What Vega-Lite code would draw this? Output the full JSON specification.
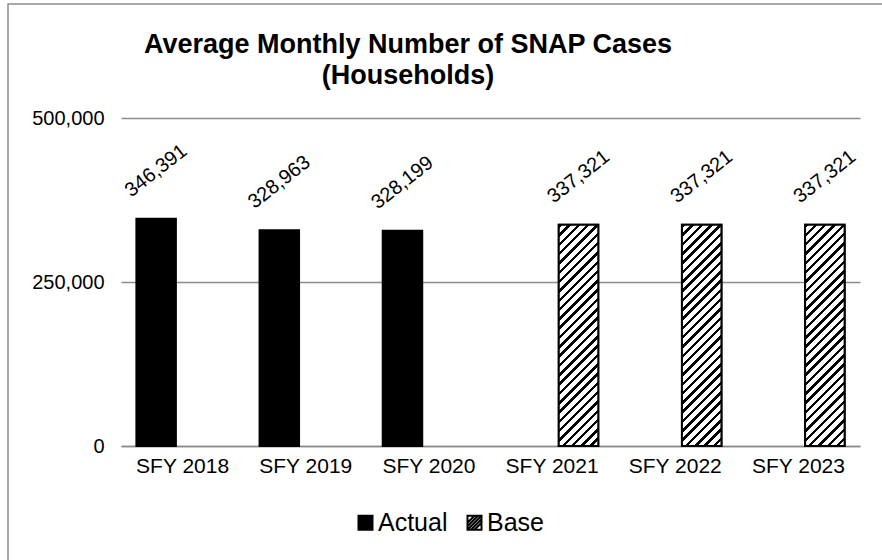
{
  "$schema": "https://vega.github.io/schema/vega-lite/v6.json",
  "width": 880,
  "height": 560,
  "autosize": {"type": "none"},
  "padding": {"left": 8, "top": 4, "right": -6, "bottom": -4},
  "background": "white",
  "config": {
    "view": {"stroke": "#8c8c8c", "strokeWidth": 1.5},
    "font": "Liberation Sans"
  },
  "title": {
    "text": ["Average Monthly Number of SNAP Cases", "(Households)"],
    "fontSize": 27,
    "fontWeight": "bold",
    "font": "Liberation Sans",
    "color": "#000",
    "anchor": "middle",
    "frame": "group",
    "offset": -86,
    "dx": -40,
    "lineHeight": 31
  },
  "data": {
    "values": [
      {"year": "SFY 2018", "type": "Actual", "value": 346391},
      {"year": "SFY 2019", "type": "Actual", "value": 328963},
      {"year": "SFY 2020", "type": "Actual", "value": 328199},
      {"year": "SFY 2021", "type": "Base", "value": 337321},
      {"year": "SFY 2022", "type": "Base", "value": 337321},
      {"year": "SFY 2023", "type": "Base", "value": 337321}
    ]
  },
  "encoding": {
    "x": {
      "field": "year",
      "type": "nominal",
      "sort": null,
      "scale": {"range": [113, 852], "paddingInner": 0.25, "paddingOuter": 0.125},
      "axis": {
        "orient": "bottom",
        "offset": -118,
        "labelAngle": 0,
        "labelPadding": 9,
        "ticks": false,
        "tickSize": 0,
        "domain": true,
        "domainColor": "#8c8c8c",
        "domainWidth": 1.5,
        "labelFontSize": 21,
        "labelColor": "#000",
        "labelFont": "Liberation Sans",
        "title": null
      }
    },
    "xOffset": {
      "field": "type",
      "type": "nominal",
      "sort": ["Actual", "Base"],
      "scale": {"domain": ["Actual", "Base"], "paddingInner": 0.253, "paddingOuter": 0}
    },
    "y": {
      "field": "value",
      "type": "quantitative",
      "scale": {"domain": [0, 500000], "range": [442, 114], "nice": false, "zero": true},
      "axis": {
        "offset": -104,
        "labelPadding": 8,
        "ticks": false,
        "tickSize": 0,
        "domain": false,
        "grid": true,
        "gridColor": "#8c8c8c",
        "gridWidth": 1.5,
        "values": [0, 250000, 500000],
        "format": ",.0f",
        "labelFontSize": 20,
        "labelColor": "#000",
        "labelFont": "Liberation Sans",
        "title": null
      }
    }
  },
  "layer": [
    {
      "mark": {"type": "bar", "stroke": "#000", "strokeWidth": 2},
      "encoding": {
        "fill": {
          "field": "type",
          "type": "nominal",
          "scale": {"domain": ["Actual", "Base"], "range": ["#000", "#fff"]},
          "legend": {
            "orient": "none",
            "legendX": 345,
            "legendY": 506,
            "direction": "horizontal",
            "title": null,
            "padding": 0,
            "symbolType": "M-1,-1H1V1H-1Z M-1,0L0,-1 M-1,0.5L0.5,-1 M-1,1L1,-1 M-0.5,1L1,-0.5 M0,1L1,0",
            "symbolSize": 196,
            "symbolStrokeColor": "#000",
            "symbolStrokeWidth": 2,
            "labelFontSize": 25,
            "labelColor": "#000",
            "labelFont": "Liberation Sans",
            "labelOffset": 0,
            "columnPadding": 14
          }
        }
      }
    },
    {
      "transform": [{"filter": "datum.type === 'Base'"}],
      "mark": {
        "type": "bar",
        "stroke": "#000",
        "strokeWidth": 2,
        "fill": {
          "gradient": "linear",
          "x1": 0, "y1": 0, "x2": 0.2039, "y2": 1.1423,
          "stops": [
            {"offset": 0, "color": "#000"}, {"offset": 0.013571, "color": "#000"}, {"offset": 0.013571, "color": "#fff"}, {"offset": 0.035714, "color": "#fff"},
            {"offset": 0.035714, "color": "#000"}, {"offset": 0.049286, "color": "#000"}, {"offset": 0.049286, "color": "#fff"}, {"offset": 0.071429, "color": "#fff"},
            {"offset": 0.071429, "color": "#000"}, {"offset": 0.085, "color": "#000"}, {"offset": 0.085, "color": "#fff"}, {"offset": 0.107143, "color": "#fff"},
            {"offset": 0.107143, "color": "#000"}, {"offset": 0.120714, "color": "#000"}, {"offset": 0.120714, "color": "#fff"}, {"offset": 0.142857, "color": "#fff"},
            {"offset": 0.142857, "color": "#000"}, {"offset": 0.156429, "color": "#000"}, {"offset": 0.156429, "color": "#fff"}, {"offset": 0.178571, "color": "#fff"},
            {"offset": 0.178571, "color": "#000"}, {"offset": 0.192143, "color": "#000"}, {"offset": 0.192143, "color": "#fff"}, {"offset": 0.214286, "color": "#fff"},
            {"offset": 0.214286, "color": "#000"}, {"offset": 0.227857, "color": "#000"}, {"offset": 0.227857, "color": "#fff"}, {"offset": 0.25, "color": "#fff"},
            {"offset": 0.25, "color": "#000"}, {"offset": 0.263571, "color": "#000"}, {"offset": 0.263571, "color": "#fff"}, {"offset": 0.285714, "color": "#fff"},
            {"offset": 0.285714, "color": "#000"}, {"offset": 0.299286, "color": "#000"}, {"offset": 0.299286, "color": "#fff"}, {"offset": 0.321429, "color": "#fff"},
            {"offset": 0.321429, "color": "#000"}, {"offset": 0.335, "color": "#000"}, {"offset": 0.335, "color": "#fff"}, {"offset": 0.357143, "color": "#fff"},
            {"offset": 0.357143, "color": "#000"}, {"offset": 0.370714, "color": "#000"}, {"offset": 0.370714, "color": "#fff"}, {"offset": 0.392857, "color": "#fff"},
            {"offset": 0.392857, "color": "#000"}, {"offset": 0.406429, "color": "#000"}, {"offset": 0.406429, "color": "#fff"}, {"offset": 0.428571, "color": "#fff"},
            {"offset": 0.428571, "color": "#000"}, {"offset": 0.442143, "color": "#000"}, {"offset": 0.442143, "color": "#fff"}, {"offset": 0.464286, "color": "#fff"},
            {"offset": 0.464286, "color": "#000"}, {"offset": 0.477857, "color": "#000"}, {"offset": 0.477857, "color": "#fff"}, {"offset": 0.5, "color": "#fff"},
            {"offset": 0.5, "color": "#000"}, {"offset": 0.513571, "color": "#000"}, {"offset": 0.513571, "color": "#fff"}, {"offset": 0.535714, "color": "#fff"},
            {"offset": 0.535714, "color": "#000"}, {"offset": 0.549286, "color": "#000"}, {"offset": 0.549286, "color": "#fff"}, {"offset": 0.571429, "color": "#fff"},
            {"offset": 0.571429, "color": "#000"}, {"offset": 0.585, "color": "#000"}, {"offset": 0.585, "color": "#fff"}, {"offset": 0.607143, "color": "#fff"},
            {"offset": 0.607143, "color": "#000"}, {"offset": 0.620714, "color": "#000"}, {"offset": 0.620714, "color": "#fff"}, {"offset": 0.642857, "color": "#fff"},
            {"offset": 0.642857, "color": "#000"}, {"offset": 0.656429, "color": "#000"}, {"offset": 0.656429, "color": "#fff"}, {"offset": 0.678571, "color": "#fff"},
            {"offset": 0.678571, "color": "#000"}, {"offset": 0.692143, "color": "#000"}, {"offset": 0.692143, "color": "#fff"}, {"offset": 0.714286, "color": "#fff"},
            {"offset": 0.714286, "color": "#000"}, {"offset": 0.727857, "color": "#000"}, {"offset": 0.727857, "color": "#fff"}, {"offset": 0.75, "color": "#fff"},
            {"offset": 0.75, "color": "#000"}, {"offset": 0.763571, "color": "#000"}, {"offset": 0.763571, "color": "#fff"}, {"offset": 0.785714, "color": "#fff"},
            {"offset": 0.785714, "color": "#000"}, {"offset": 0.799286, "color": "#000"}, {"offset": 0.799286, "color": "#fff"}, {"offset": 0.821429, "color": "#fff"},
            {"offset": 0.821429, "color": "#000"}, {"offset": 0.835, "color": "#000"}, {"offset": 0.835, "color": "#fff"}, {"offset": 0.857143, "color": "#fff"},
            {"offset": 0.857143, "color": "#000"}, {"offset": 0.870714, "color": "#000"}, {"offset": 0.870714, "color": "#fff"}, {"offset": 0.892857, "color": "#fff"},
            {"offset": 0.892857, "color": "#000"}, {"offset": 0.906429, "color": "#000"}, {"offset": 0.906429, "color": "#fff"}, {"offset": 0.928571, "color": "#fff"},
            {"offset": 0.928571, "color": "#000"}, {"offset": 0.942143, "color": "#000"}, {"offset": 0.942143, "color": "#fff"}, {"offset": 0.964286, "color": "#fff"},
            {"offset": 0.964286, "color": "#000"}, {"offset": 0.977857, "color": "#000"}, {"offset": 0.977857, "color": "#fff"}, {"offset": 1, "color": "#fff"}
          ]
        }
      },
      "encoding": {}
    },
    {
      "mark": {"type": "text", "angle": -38, "dx": 29.5, "dy": -37.8, "fontSize": 20, "align": "center", "baseline": "middle", "color": "#000", "font": "Liberation Sans"},
      "encoding": {
        "text": {"field": "value", "type": "quantitative", "format": ","}
      }
    }
  ]
}
